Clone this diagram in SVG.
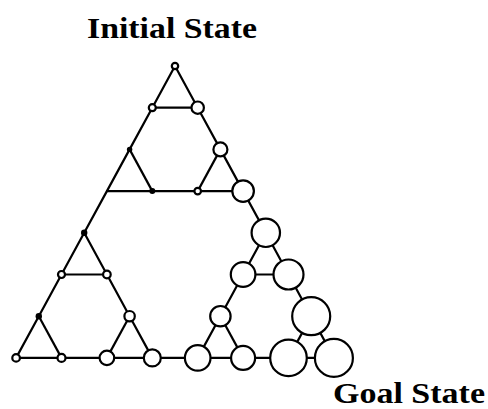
<svg xmlns="http://www.w3.org/2000/svg" width="488" height="409" viewBox="0 0 488 409">
<style>
.e{stroke:#000;stroke-width:2.2;fill:none;stroke-linejoin:round}
.n{fill:#fff;stroke:#000;stroke-width:2.2}
.d{fill:#000;stroke:none}
.t{font-family:"Liberation Serif","Times New Roman",serif;font-weight:bold;font-size:30px;fill:#000}
</style>
<rect width="488" height="409" fill="#fff"/>
<g id="connectors" class="e">
<path d="M175,66 L152.3,107.7 L129.6,149.4 L106.9,191.1 L84.2,232.8 L61.5,274.5 L38.8,316.2 L16.1,357.9"/>
<path d="M175,66 L197.7,107.7 L220.4,149.4 L243.1,191.1 L265.8,232.8 L288.5,274.5 L311.2,316.2 L333.9,357.9"/>
<path d="M16.1,357.9 L333.9,357.9"/>
<path d="M152.3,107.7 L197.7,107.7"/>
<path d="M106.9,191.1 L243.1,191.1"/>
<path d="M129.6,149.4 L152.3,191.1"/>
<path d="M220.4,149.4 L197.7,191.1"/>
<path d="M84.2,232.8 L106.9,274.5 L129.6,316.2 L152.3,357.9"/>
<path d="M61.5,274.5 L106.9,274.5"/>
<path d="M38.8,316.2 L61.5,357.9"/>
<path d="M129.6,316.2 L106.9,357.9"/>
<path d="M265.8,232.8 L243.1,274.5 L220.4,316.2 L197.7,357.9"/>
<path d="M243.1,274.5 L288.5,274.5"/>
<path d="M220.4,316.2 L243.1,357.9"/>
<path d="M311.2,316.2 L288.5,357.9"/>
</g>
<g id="n_T"><circle class="n" cx="175" cy="66" r="3.2"/></g>
<g id="n_a"><circle class="n" cx="152.3" cy="107.7" r="3.5"/></g>
<g id="n_b"><circle class="n" cx="197.7" cy="107.7" r="6.2"/></g>
<g id="n_c"><circle class="d" cx="129.6" cy="149.4" r="2.7"/></g>
<g id="n_f"><circle class="n" cx="220.4" cy="149.4" r="7"/></g>
<g id="n_e"><circle class="d" cx="152.3" cy="191.1" r="3"/></g>
<g id="n_g"><circle class="n" cx="197.7" cy="191.1" r="3.3"/></g>
<g id="n_h"><circle class="n" cx="243.1" cy="191.1" r="10.8"/></g>
<g id="n_p"><circle class="d" cx="84.2" cy="232.8" r="3.2"/></g>
<g id="n_P"><circle class="n" cx="265.8" cy="232.8" r="14.2"/></g>
<g id="n_q"><circle class="n" cx="61.5" cy="274.5" r="3.5"/></g>
<g id="n_r"><circle class="n" cx="106.9" cy="274.5" r="3.8"/></g>
<g id="n_Q"><circle class="n" cx="243.1" cy="274.5" r="12.3"/></g>
<g id="n_R"><circle class="n" cx="288.5" cy="274.5" r="15"/></g>
<g id="n_s"><circle class="d" cx="38.8" cy="316.2" r="3.2"/></g>
<g id="n_v"><circle class="n" cx="129.6" cy="316.2" r="5.2"/></g>
<g id="n_S"><circle class="n" cx="220.4" cy="316.2" r="10.2"/></g>
<g id="n_V"><circle class="n" cx="311.2" cy="316.2" r="19"/></g>
<g id="n_t"><circle class="n" cx="16.1" cy="357.9" r="3.8"/></g>
<g id="n_u"><circle class="n" cx="61.5" cy="357.9" r="4"/></g>
<g id="n_w"><circle class="n" cx="106.9" cy="357.9" r="7.3"/></g>
<g id="n_x"><circle class="n" cx="152.3" cy="357.9" r="8.5"/></g>
<g id="n_Tn"><circle class="n" cx="197.7" cy="357.9" r="12.8"/></g>
<g id="n_U"><circle class="n" cx="243.1" cy="357.9" r="12"/></g>
<g id="n_W"><circle class="n" cx="288.5" cy="357.9" r="18.3"/></g>
<g id="n_X"><circle class="n" cx="333.9" cy="357.9" r="19"/></g>
<g id="label_initial"><text class="t" x="87" y="38" textLength="170" lengthAdjust="spacingAndGlyphs">Initial State</text></g>
<g id="label_goal"><text class="t" x="333" y="403" textLength="152" lengthAdjust="spacingAndGlyphs">Goal State</text></g>
</svg>
